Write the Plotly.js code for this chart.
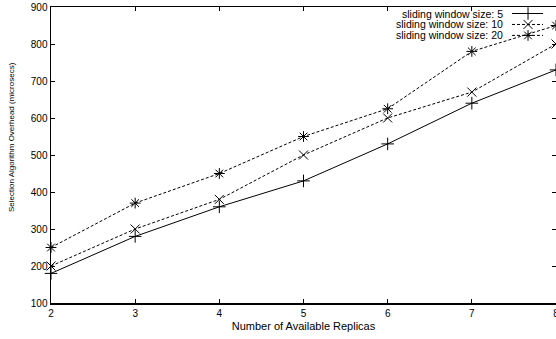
<!DOCTYPE html>
<html><head><meta charset="utf-8">
<script src="https://cdn.plot.ly/plotly-3.0.1.min.js"></script>
<style>html,body{margin:0;padding:0;background:#fff;}</style>
</head><body>
<div id="chart" style="width:556px;height:339px;"></div>
<script>
const replicas = [2, 3, 4, 5, 6, 7, 8];
const win5  = [180, 280, 360, 430, 530, 640, 730];
const win10 = [200, 300, 380, 500, 600, 670, 800];
const win20 = [250, 370, 450, 550, 625, 780, 850];
const seriesNames = ['sliding window size: 5', 'sliding window size: 10', 'sliding window size: 20'];
const yTicks = [100, 200, 300, 400, 500, 600, 700, 800, 900];
const xTitle = 'Number of Available Replicas';
const yTitle = 'Selection Algorithm Overhead (microsecs)';

const FONT = 'Liberation Sans, Arial, sans-serif';
const symbols = ['cross-thin-open', 'x-thin-open', 'asterisk-open'];
const dashes = ['solid', '3px,2px', '3px,2px'];
const allY = [win5, win10, win20];

const traces = allY.map((ys, i) => ({
  x: replicas, y: ys, type: 'scatter', mode: 'lines+markers', name: seriesNames[i],
  line: {color: '#000', width: 1, dash: dashes[i]},
  marker: {symbol: symbols[i], size: 9, color: '#000', line: {color: '#000', width: 1}},
  showlegend: false, cliponaxis: false
}));

// custom gnuplot-style legend (text right, key sample to the right)
const rows = [0.978, 0.941, 0.904];
const keyX0 = 0.9129, keyXm = 0.9446, keyX1 = 0.9743, textX = 0.897;
const shapes = [], annotations = [];
rows.forEach((ry, i) => {
  shapes.push({type: 'line', xref: 'paper', yref: 'paper', x0: keyX0, x1: keyX1, y0: ry, y1: ry,
    line: {color: '#000', width: 1, dash: dashes[i]}});
  annotations.push({xref: 'paper', yref: 'paper', x: textX, y: ry, xanchor: 'right', yanchor: 'middle',
    text: seriesNames[i], showarrow: false, borderpad: 0, font: {family: FONT, size: 10.5, color: '#000'}});
  traces.push({x: [keyXm], y: [ry], xaxis: 'x2', yaxis: 'y2', type: 'scatter', mode: 'markers',
    marker: {symbol: symbols[i], size: 9, color: '#000', line: {color: '#000', width: 1}},
    showlegend: false, hoverinfo: 'skip', cliponaxis: false});
});
annotations.push({xref: 'paper', yref: 'paper', x: -0.077, y: 0.561, xanchor: 'center', yanchor: 'middle',
  textangle: -90, text: yTitle, showarrow: false, font: {family: FONT, size: 8, color: '#000'}});

const layout = {
  width: 556, height: 339,
  margin: {l: 51, r: 0, t: 7, b: 36, pad: 0},
  paper_bgcolor: '#fff', plot_bgcolor: '#fff',
  font: {family: FONT, size: 10, color: '#000'},
  showlegend: false,
  xaxis: {
    range: [2, 8], tickvals: replicas, ticktext: replicas.map(String), ticklabeloverflow: 'allow',
    showgrid: false, zeroline: false, showline: true, linecolor: '#000', linewidth: 1.5,
    mirror: 'allticks', ticks: 'inside', ticklen: 4, tickcolor: '#000', tickwidth: 1,
    tickfont: {family: FONT, size: 10, color: '#000'},
    title: {text: xTitle, font: {family: FONT, size: 11, color: '#000'}, standoff: 5}
  },
  yaxis: {
    range: [100, 900], tickvals: yTicks, ticktext: yTicks.map(String),
    showgrid: false, zeroline: false, showline: true, linecolor: '#000', linewidth: 1.5,
    mirror: 'allticks', ticks: 'inside', ticklen: 4, tickcolor: '#000', tickwidth: 1,
    tickfont: {family: FONT, size: 10, color: '#000'}
  },
  xaxis2: {overlaying: 'x', range: [0, 1], visible: false, fixedrange: true},
  yaxis2: {overlaying: 'y', range: [0, 1], visible: false, fixedrange: true},
  shapes: shapes, annotations: annotations
};

Plotly.newPlot('chart', traces, layout, {displayModeBar: false, staticPlot: true});
</script>
</body></html>
